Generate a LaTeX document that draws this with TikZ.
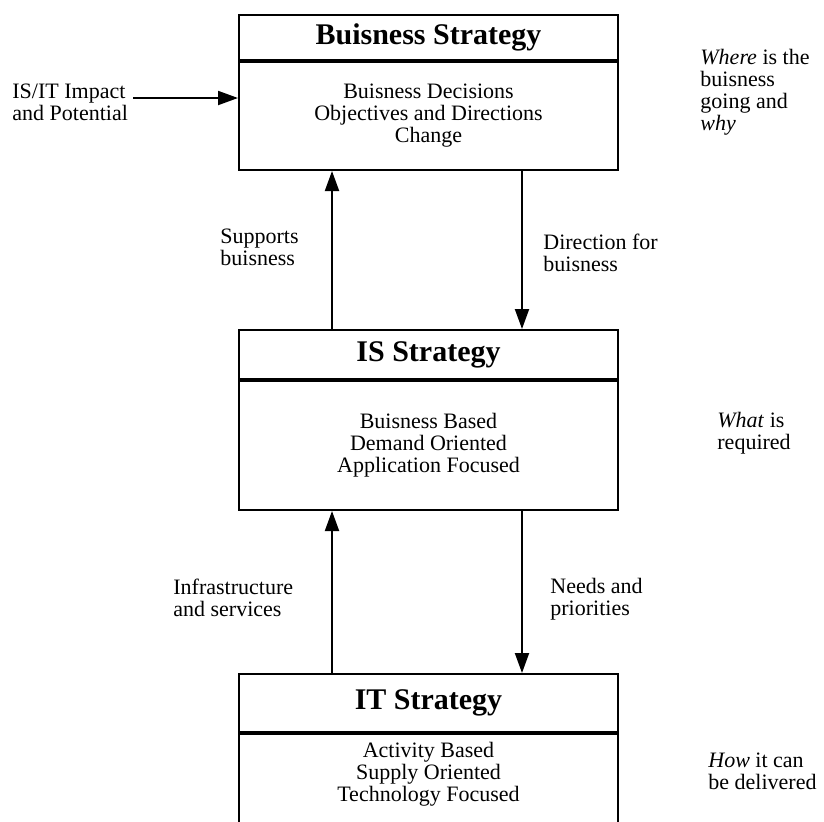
\documentclass[tikz,border=0pt]{standalone}
\usepackage{fontspec}
\setmainfont{Liberation Serif}
\usetikzlibrary{arrows.meta,positioning}
\tikzset{
	head/.style={draw,line width=1pt,minimum width=189.5pt,inner sep=0pt,
		font=\fontsize{15}{16}\selectfont\bfseries},
	body/.style={draw,line width=1pt,minimum width=189.5pt,inner sep=0pt,
		align=center,font=\fontsize{11}{11}\selectfont},
	note/.style={align=left,inner sep=0pt,font=\fontsize{11}{11}\selectfont},
	flow/.style={-{Triangle[length=10pt,width=7pt]},line width=1pt}
}

\begin{document}
\begin{tikzpicture}[x=0.5pt,y=-0.5pt]
	\clip (0,0) rectangle (824,821);
	
	% the three strategy boxes
	\node[head,minimum height=22.5pt,anchor=north] (bsH) at (428.5,14) {Buisness Strategy};
	\node[body,minimum height=54pt,anchor=north] (bsB) at (bsH.south)
		{Buisness Decisions\\Objectives and Directions\\Change};
	
	\node[head,minimum height=24.5pt,anchor=north] (isH) at (428.5,329) {IS Strategy};
	\node[body,minimum height=64.5pt,anchor=north] (isB) at (isH.south)
		{Buisness Based\\Demand Oriented\\Application Focused};
	
	\node[head,minimum height=29pt,anchor=north] (itH) at (428.5,673) {IT Strategy};
	\node[body,minimum height=100pt,anchor=north] (itB) at (itH.south) {};
	\node[body,draw=none,minimum height=0pt] (itT) at (428.5,774)
		{Activity Based\\Supply Oriented\\Technology Focused};
	
	% side notes
	\node[note,anchor=west] (where) at (700,92.5)
		{\emph{Where} is the\\buisness\\going and\\\emph{why}};
	\node[note,anchor=west] (what) at (717,433.5) {\emph{What} is\\required};
	\node[note,anchor=west] (how) at (708,771) {\emph{How} it can\\be delivered};
	
	\node[note,anchor=west] (impact) at (12,102) {IS/IT Impact\\and Potential};
	\coordinate (imp) at (133,98);
	\draw[flow] (imp) -- (imp -| bsB.west);
	
	% arrows between the boxes
	\draw[flow] ([xshift=47pt]isH.north west) -- ([xshift=47pt]bsB.south west);
	\draw[flow] ([xshift=142pt]bsB.south west) -- ([xshift=142pt]isH.north west);
	\draw[flow] ([xshift=47pt]itH.north west) -- ([xshift=47pt]isB.south west);
	\draw[flow] ([xshift=142pt]isB.south west) -- ([xshift=142pt]itH.north west);
	
	\node[note,anchor=west] (supp) at (220,247.5) {Supports\\buisness};
	\node[note,anchor=west] (dirn) at (543,252.5) {Direction for\\buisness};
	\node[note,anchor=west] (infra) at (173,598) {Infrastructure\\and services};
	\node[note,anchor=west] (needs) at (550,599.5) {Needs and\\priorities};
\end{tikzpicture}
\end{document}
